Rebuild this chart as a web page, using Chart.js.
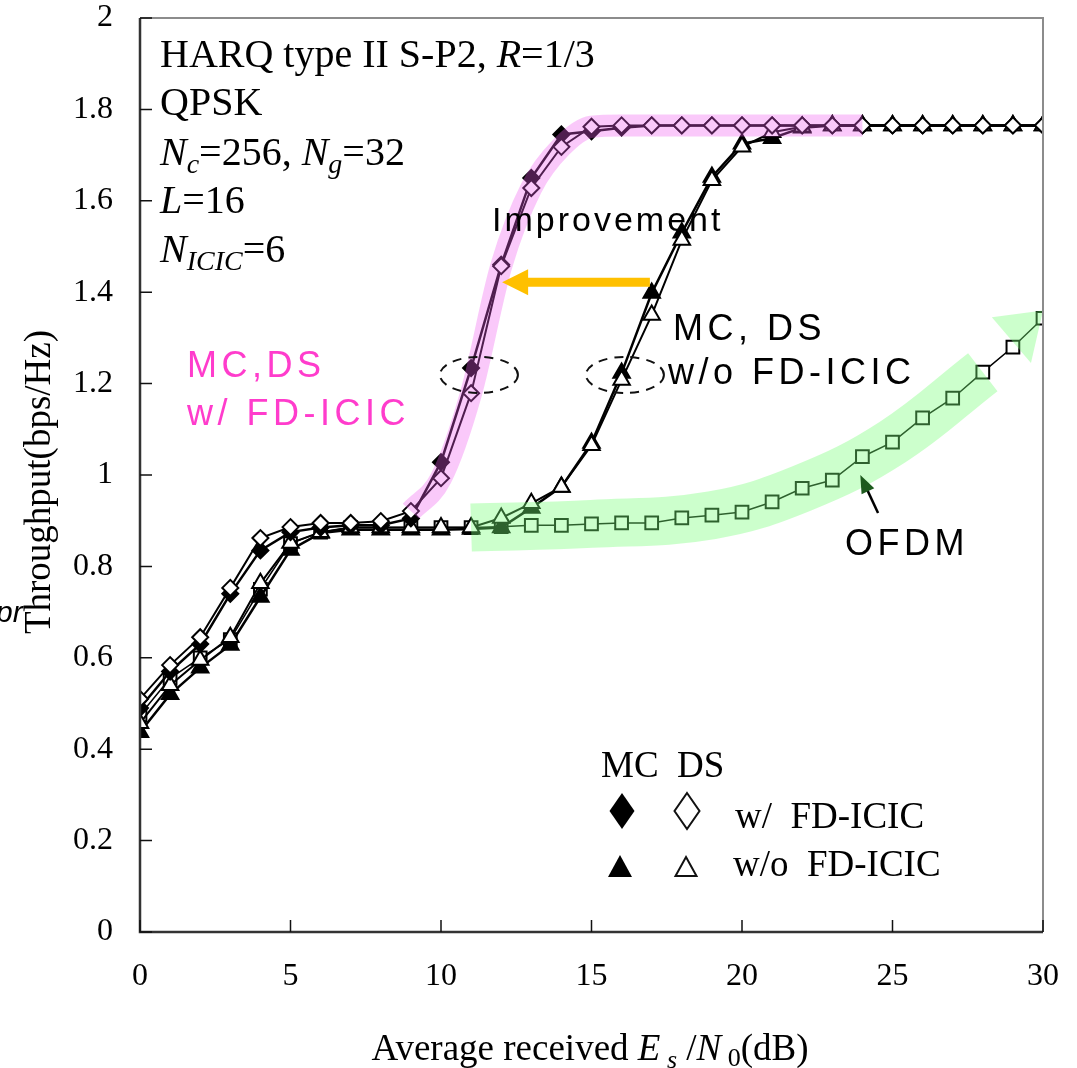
<!DOCTYPE html>
<html>
<head>
<meta charset="utf-8">
<script src="https://cdn.jsdelivr.net/npm/chart.js@4.4.1/dist/chart.umd.min.js"></script>
<style>
  html, body { margin: 0; padding: 0; background: #fff; }
  canvas { display: block; }
</style>
</head>
<body>
<canvas id="c" width="1077" height="1068"></canvas>
<script>
// Es/N0 (dB)
const snr = [0,1,2,3,4,5,6,7,8,9,10,11,12,13,14,15,16,17,18,19,20,21,22,23,24,25,26,27,28,29,30];

// throughput (bps/Hz)
const mcWith = [0.49,0.57,0.63,0.74,0.835,0.875,0.885,0.89,0.89,0.905,1.028,1.234,1.46,1.65,1.745,1.752,1.76,1.765,1.765,1.765,1.765,1.765,1.765,1.765,1.765,1.765,1.765,1.765,1.765,1.765,1.765];
const dsWith = [0.51,0.584,0.645,0.753,0.862,0.886,0.895,0.895,0.899,0.921,0.993,1.179,1.457,1.628,1.718,1.762,1.765,1.765,1.765,1.765,1.765,1.765,1.765,1.765,1.765,1.765,1.765,1.765,1.765,1.765,1.765];
const mcWithout = [0.437,0.52,0.578,0.628,0.733,0.836,0.873,0.88,0.88,0.88,0.88,0.882,0.885,0.928,0.974,1.07,1.223,1.398,1.53,1.652,1.725,1.737,1.76,1.765,1.765,1.765,1.765,1.765,1.765,1.765,1.765];
const dsWithout = [0.457,0.54,0.595,0.645,0.763,0.851,0.875,0.885,0.885,0.885,0.885,0.885,0.906,0.938,0.974,1.065,1.208,1.35,1.514,1.645,1.718,1.75,1.762,1.765,1.765,1.765,1.765,1.765,1.765,1.765,1.765];
const ofdm = [0.475,0.555,0.6,0.64,0.75,0.85,0.875,0.885,0.885,0.885,0.885,0.885,0.887,0.89,0.89,0.893,0.895,0.895,0.906,0.912,0.919,0.941,0.971,0.989,1.04,1.072,1.125,1.168,1.225,1.28,1.343];

const xTicks = [0,5,10,15,20,25,30];
const yTicks = [0,0.2,0.4,0.6,0.8,1,1.2,1.4,1.6,1.8,2];

// highlighter bands: which points of the curve they pass through
const pinkBandX = [9,10,11,12,13,14,15,16,18,20,22,24];
const greenBandX = [11,15,19,22,25,28];

const pick = (ys, xsel) => xsel.map(x => ({ x, y: ys[snr.indexOf(x)] }));
const pts = ys => snr.map((x, i) => ({ x, y: ys[i] }));

const SERIF = "'Liberation Serif', 'Times New Roman', serif";
const SANS = "'Liberation Sans', Arial, sans-serif";

function runs(ctx, x, y, parts, measureOnly) {
  let w = 0;
  for (const [t, font, dy] of parts) {
    ctx.font = font;
    if (!measureOnly) ctx.fillText(t, x + w, y + (dy || 0));
    w += ctx.measureText(t).width;
  }
  return w;
}

const ink = {
  id: 'ink',
  afterDatasetsDraw(chart) {
    const ctx = chart.ctx, xs = chart.scales.x, ys = chart.scales.y;
    const X = v => xs.getPixelForValue(v), Y = v => ys.getPixelForValue(v);
    // green band arrow head
    ctx.save();
    ctx.fillStyle = 'rgba(120,255,120,0.38)';
    ctx.beginPath();
    ctx.moveTo(X(28.3), Y(1.345));
    ctx.lineTo(X(30), Y(1.36));
    ctx.lineTo(X(29.6), Y(1.245));
    ctx.closePath();
    ctx.fill();
    ctx.restore();
  },
  afterDraw(chart) {
    const ctx = chart.ctx, xs = chart.scales.x, ys = chart.scales.y;
    const X = v => xs.getPixelForValue(v), Y = v => ys.getPixelForValue(v);
    const a = chart.chartArea;
    ctx.save();

    // frame
    ctx.strokeStyle = '#8c8c8c';
    ctx.lineWidth = 2;
    ctx.beginPath();
    ctx.moveTo(a.left, a.top); ctx.lineTo(a.right, a.top); ctx.lineTo(a.right, a.bottom);
    ctx.stroke();
    ctx.strokeStyle = '#333';
    ctx.lineWidth = 2.5;
    ctx.beginPath();
    ctx.moveTo(a.left, a.top); ctx.lineTo(a.left, a.bottom); ctx.lineTo(a.right, a.bottom);
    ctx.stroke();

    // inward ticks
    ctx.strokeStyle = '#111';
    ctx.lineWidth = 1.5;
    ctx.beginPath();
    yTicks.forEach(v => { ctx.moveTo(a.left, Y(v)); ctx.lineTo(a.left + 12, Y(v)); });
    xTicks.forEach(v => { ctx.moveTo(X(v), a.bottom); ctx.lineTo(X(v), a.bottom - 12); });
    ctx.stroke();

    ctx.fillStyle = '#000';
    ctx.textBaseline = 'alphabetic';
    ctx.textAlign = 'left';

    // stray fragment at the far left
    ctx.font = 'italic 30px ' + SANS;
    ctx.fillText('pr', -4, 622);

    // axis titles
    ctx.save();
    ctx.translate(50, 482);
    ctx.rotate(-Math.PI / 2);
    ctx.font = '37px ' + SERIF;
    ctx.textAlign = 'center';
    ctx.fillText('Throughput(bps/Hz)', 0, 0);
    ctx.restore();

    const xt = [
      ['Average received ', '37px ' + SERIF],
      ['E', 'italic 37px ' + SERIF],
      [' s', 'italic 26px ' + SERIF, 8],
      [' /', '37px ' + SERIF],
      ['N', 'italic 37px ' + SERIF],
      [' 0', '26px ' + SERIF, 6],
      ['(dB)', '37px ' + SERIF]
    ];
    const xw = runs(ctx, 0, 0, xt, true);
    runs(ctx, 590 - xw / 2, 1060, xt);

    // condition block
    const f40 = '40px ' + SERIF, i40 = 'italic 40px ' + SERIF, i28 = 'italic 28px ' + SERIF;
    runs(ctx, 160, 67, [['HARQ type II S-P2, ', f40], ['R', i40], ['=1/3', f40]]);
    runs(ctx, 160, 115, [['QPSK', f40]]);
    runs(ctx, 160, 165, [['N', i40], ['c', i28, 8], ['=256, ', f40], ['N', i40], ['g', i28, 8], ['=32', f40]]);
    runs(ctx, 160, 213, [['L', i40], ['=16', f40]]);
    runs(ctx, 160, 262, [['N', i40], ['ICIC', i28, 8], ['=6', f40]]);

    // sans annotations
    ctx.font = '34px ' + SANS;
    ctx.letterSpacing = '3px';
    ctx.fillText('Improvement', 492, 231);
    ctx.font = '36px ' + SANS;
    ctx.letterSpacing = '4.5px';
    ctx.fillText('MC, DS', 673, 340);
    ctx.fillText('w/o FD-ICIC', 668, 384);
    ctx.fillText('OFDM', 845, 555);
    ctx.fillStyle = '#ff3ccc';
    ctx.fillText('MC,DS', 187, 377);
    ctx.fillText('w/ FD-ICIC', 187, 425);
    ctx.letterSpacing = '0px';

    // improvement arrow
    const ay = Y(1.422), tip = X(12.03);
    ctx.strokeStyle = '#ffc000';
    ctx.fillStyle = '#ffc000';
    ctx.lineWidth = 9;
    ctx.beginPath();
    ctx.moveTo(X(16.94), ay); ctx.lineTo(tip + 20, ay);
    ctx.stroke();
    ctx.beginPath();
    ctx.moveTo(tip, ay); ctx.lineTo(tip + 26, ay - 13); ctx.lineTo(tip + 26, ay + 13);
    ctx.closePath();
    ctx.fill();

    // OFDM pointer
    const tx = X(23.93), ty = Y(1.0), sx = X(24.52), sy = Y(0.917);
    const ang = Math.atan2(ty - sy, tx - sx);
    ctx.strokeStyle = '#000';
    ctx.lineWidth = 2.5;
    ctx.beginPath();
    ctx.moveTo(sx, sy); ctx.lineTo(tx - 12 * Math.cos(ang), ty - 12 * Math.sin(ang));
    ctx.stroke();
    ctx.fillStyle = '#1d5a1d';
    ctx.beginPath();
    ctx.moveTo(tx, ty);
    ctx.lineTo(tx - 18 * Math.cos(ang) + 7 * Math.sin(ang), ty - 18 * Math.sin(ang) - 7 * Math.cos(ang));
    ctx.lineTo(tx - 18 * Math.cos(ang) - 7 * Math.sin(ang), ty - 18 * Math.sin(ang) + 7 * Math.cos(ang));
    ctx.closePath();
    ctx.fill();

    // dashed ellipses
    ctx.strokeStyle = '#111';
    ctx.lineWidth = 2;
    ctx.setLineDash([9, 7]);
    [11.26, 16.11].forEach(v => {
      ctx.beginPath();
      ctx.ellipse(X(v), Y(1.219), 39, 18, 0, 0, Math.PI * 2);
      ctx.stroke();
    });
    ctx.setLineDash([]);

    // legend
    ctx.fillStyle = '#000';
    const f37 = '37px ' + SERIF;
    runs(ctx, 601, 777, [['MC  DS', f37]]);
    runs(ctx, 735, 828, [['w/  FD-ICIC', f37]]);
    runs(ctx, 733, 876, [['w/o  FD-ICIC', f37]]);
    const diamond = (cx, cy) => {
      ctx.beginPath();
      ctx.moveTo(cx, cy - 18); ctx.lineTo(cx + 12.5, cy); ctx.lineTo(cx, cy + 18); ctx.lineTo(cx - 12.5, cy);
      ctx.closePath();
    };
    const tri = (cx, top, bot, hw) => {
      ctx.beginPath();
      ctx.moveTo(cx, top); ctx.lineTo(cx + hw, bot); ctx.lineTo(cx - hw, bot);
      ctx.closePath();
    };
    ctx.lineWidth = 2;
    diamond(622, 811); ctx.fill();
    diamond(687, 811); ctx.stroke();
    tri(620, 855, 877, 12); ctx.fill();
    tri(686, 857, 876, 10.5); ctx.stroke();

    ctx.restore();
  }
};

const line = (label, data, style, radius, filled, order, width) => ({
  label, data, order,
  borderColor: '#000',
  borderWidth: width,
  pointStyle: style,
  pointRadius: radius,
  pointBorderWidth: 2,
  pointBorderColor: '#000',
  pointBackgroundColor: filled ? '#000' : '#fff',
  tension: 0
});

const band = (label, data, color, width, order, smooth) => ({
  label, data, order,
  borderColor: color, borderWidth: width,
  borderCapStyle: 'butt', borderJoinStyle: 'round',
  pointRadius: 0,
  ...(smooth ? { tension: 0.4 } : { cubicInterpolationMode: 'monotone' })
});

// keep the plot box where the figure has it
const noPad = s => { s.paddingTop = 0; s.paddingBottom = 0; s.paddingLeft = 0; s.paddingRight = 0; };

new Chart(document.getElementById('c'), {
  type: 'line',
  data: {
    datasets: [
      line('OFDM', pts(ofdm), 'rect', 9, false, 7, 1.5),
      line('MC w/o FD-ICIC', pts(mcWithout), 'triangle', 9.5, true, 6, 2.5),
      line('DS w/o FD-ICIC', pts(dsWithout), 'triangle', 9.5, false, 5, 2),
      line('MC w/ FD-ICIC', pts(mcWith), 'rectRot', 8, true, 4, 2.5),
      line('DS w/ FD-ICIC', pts(dsWith), 'rectRot', 8, false, 3, 2),
      band('green band', pick(ofdm, greenBandX), 'rgba(120,255,120,0.38)', 48, 1, true),
      band('pink band', pick(dsWith, pinkBandX), 'rgba(240,90,240,0.33)', 22, 0, false)
    ]
  },
  options: {
    responsive: false,
    animation: false,
    devicePixelRatio: 1,
    layout: { padding: { top: 18, right: 34, left: 0, bottom: 0 } },
    plugins: { legend: { display: false }, tooltip: { enabled: false } },
    scales: {
      x: {
        type: 'linear', min: 0, max: 30,
        afterBuildTicks: s => { s.ticks = xTicks.map(v => ({ value: v })); },
        afterFit: s => { s.height = 136; noPad(s); },
        grid: { display: false, drawTicks: false },
        border: { display: false },
        ticks: { color: '#000', padding: 25, maxRotation: 0, font: { family: 'Liberation Serif', size: 32 } }
      },
      y: {
        type: 'linear', min: 0, max: 2,
        afterBuildTicks: s => { s.ticks = yTicks.map(v => ({ value: v })); },
        afterFit: s => { s.width = 140; noPad(s); },
        grid: { display: false, drawTicks: false },
        border: { display: false },
        ticks: {
          color: '#000', padding: 27, font: { family: 'Liberation Serif', size: 32 },
          callback: v => String(+v.toFixed(1))
        }
      }
    }
  },
  plugins: [ink]
});
</script>
</body>
</html>
